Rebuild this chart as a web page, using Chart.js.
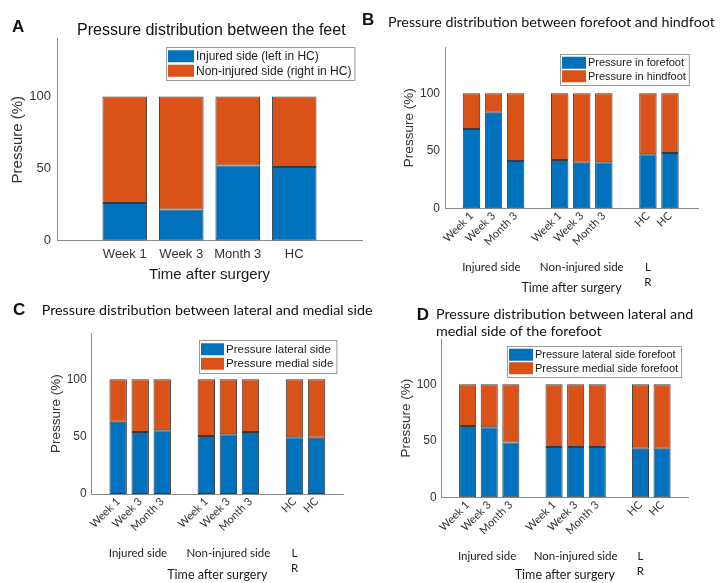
<!DOCTYPE html>
<html>
<head>
<meta charset="utf-8">
<script src="https://cdn.jsdelivr.net/npm/chart.js@4/dist/chart.umd.min.js"></script>
<style>
  body { margin: 0; background: #fff; width: 721px; height: 583px; position: relative; overflow: hidden; }
  canvas { position: absolute; }
  .lbl { position: absolute; white-space: nowrap; color: #111; line-height: 1; }
</style>
</head>
<body>
<script>
// ---- data ----
const catsA = ['Week 1', 'Week 3', 'Month 3', 'HC'];
const posA = [1, 2, 3, 4];
const injuredA = [26, 21.5, 52, 51];
const nonInjuredA = [74, 78.5, 48, 49];

const catsG = ['Week 1', 'Week 3', 'Month 3', 'Week 1', 'Week 3', 'Month 3', 'HC', 'HC'];
const posG = [1, 2, 3, 5, 6, 7, 9, 10];

const forefootB = [69, 83, 41, 42, 39.5, 40, 47, 48];
const hindfootB = [31, 17, 59, 58, 60.5, 60, 53, 52];

const lateralC = [63, 54, 55.5, 50.5, 52, 54, 49.5, 49];
const medialC = [37, 46, 44.5, 49.5, 48, 46, 50.5, 51];

const lateralForeD = [63, 62, 48.5, 44.5, 44.5, 44.5, 43, 43];
const medialForeD = [37, 38, 51.5, 55.5, 55.5, 55.5, 57, 57];

const yTicks = [0, 50, 100];
const groupLabels = ['Injured side', 'Non-injured side', 'L', 'R'];

const COLORS = ['#0072BD', '#D95319'];
const ARIAL = '"Liberation Sans", Arial, sans-serif';
const CALI = 'Lato, "Open Sans", sans-serif';

// legend box drawn inside the axes, top right (MATLAB style)
const boxLegend = {
  id: 'boxLegend',
  afterDraw(chart, args, o) {
    const { ctx, chartArea: a } = chart;
    const sets = chart.data.datasets;
    ctx.save();
    ctx.font = o.font;
    const tw = Math.max(...sets.map(d => ctx.measureText(d.label).width));
    const w = 2 + o.sw + 2 + tw + 3;
    const h = sets.length * o.row + 4;
    const x = Math.round(a.right - o.inset - w), y = Math.round(a.top + o.insetTop);
    ctx.fillStyle = '#fff';
    ctx.fillRect(x, y, w, h);
    ctx.strokeStyle = '#9a9a9a';
    ctx.lineWidth = 1;
    ctx.strokeRect(x + 0.5, y + 0.5, w, h);
    sets.forEach((d, i) => {
      const cy = y + 2 + o.row * (i + 0.5);
      ctx.fillStyle = d.backgroundColor;
      ctx.fillRect(x + 2, cy - o.sh / 2, o.sw, o.sh);
      ctx.fillStyle = '#1a1a1a';
      ctx.textBaseline = 'middle';
      ctx.fillText(d.label, x + 4 + o.sw, cy + 0.5);
    });
    ctx.restore();
  }
};

// group captions under the rotated tick labels
const groupText = {
  id: 'groupText',
  afterDraw(chart, args, o) {
    if (!o.items) return;
    const { ctx, chartArea: a, scales: { x } } = chart;
    ctx.save();
    ctx.font = o.font;
    ctx.fillStyle = '#1a1a1a';
    ctx.textAlign = 'center';
    ctx.textBaseline = 'middle';
    o.items.forEach(it => ctx.fillText(it.text, x.getPixelForValue(it.x), a.bottom + it.dy));
    ctx.restore();
  }
};

function makePanel(o) {
  const cv = document.createElement('canvas');
  cv.width = o.cw; cv.height = o.ch;
  cv.style.left = o.cx + 'px'; cv.style.top = o.cy + 'px';
  document.body.appendChild(cv);

  const yW = o.area.l - o.cx;
  const xH = o.cy + o.ch - o.area.b;
  const xTitleLh = o.xTitleFont.size * 1.2;
  const yTitleLh = o.yTitleFont.size * 1.2;

  const datasets = o.series.map((vals, i) => ({
    label: o.names[i],
    data: vals.map((v, j) => ({ x: o.pos[j], y: v })),
    backgroundColor: COLORS[i],
    borderColor: '#3a3a3a',
    borderWidth: 1,
    borderSkipped: false,
    barPercentage: 0.79,
    categoryPercentage: 1
  }));

  new Chart(cv, {
    type: 'bar',
    data: { datasets },
    options: {
      responsive: false,
      animation: false,
      layout: { padding: { left: 0, top: o.area.t - o.cy, right: o.cx + o.cw - o.area.r, bottom: 0 } },
      plugins: {
        legend: { display: false },
        tooltip: { enabled: false },
        boxLegend: o.legend,
        groupText: o.group || {}
      },
      scales: {
        x: {
          type: 'linear',
          stacked: true,
          offset: false,
          min: o.xMin, max: o.xMax,
          grid: { display: false, drawTicks: false, offset: false },
          border: { display: true, color: '#8a8a8a', width: 1 },
          afterBuildTicks: s => { s.ticks = o.pos.map(v => ({ value: v })); },
          afterFit: s => { s.height = xH; },
          ticks: {
            autoSkip: false,
            minRotation: o.rot, maxRotation: o.rot,
            padding: o.xTickPad,
            color: '#333',
            font: o.xTickFont,
            callback: (v, i) => o.cats[i]
          },
          title: {
            display: true,
            text: 'Time after surgery',
            color: '#1a1a1a',
            font: o.xTitleFont,
            padding: { top: 0, bottom: (o.cy + o.ch) - xTitleLh / 2 - o.xTitleY }
          }
        },
        y: {
          stacked: true,
          min: 0, max: 140,
          grid: { display: false, drawTicks: false },
          border: { display: true, color: '#8a8a8a', width: 1 },
          afterBuildTicks: s => { s.ticks = yTicks.map(v => ({ value: v })); },
          afterFit: s => { s.width = yW; },
          ticks: { padding: o.yTickPad, color: '#333', font: o.yTickFont },
          title: {
            display: true,
            text: 'Pressure (%)',
            color: '#333',
            font: o.yTitleFont,
            padding: { top: o.yTitleX - o.cx - yTitleLh / 2, bottom: 0 }
          }
        }
      }
    },
    plugins: [boxLegend, groupText]
  });
}

function groupItems() {
  return [
    { text: groupLabels[0], x: 1.9, dy: 59 },
    { text: groupLabels[1], x: 6.0, dy: 59 },
    { text: groupLabels[2], x: 9.0, dy: 59 },
    { text: groupLabels[3], x: 9.0, dy: 74 }
  ];
}

// panel A
makePanel({
  cx: 0, cy: 25, cw: 370, ch: 259,
  area: { l: 57, t: 35, r: 362, b: 240.5 },
  xMin: -0.2, xMax: 5.2, pos: posA, cats: catsA, rot: 0,
  series: [injuredA, nonInjuredA],
  names: ['Injured side (left in HC)', 'Non-injured side (right in HC)'],
  xTickFont: { family: ARIAL, size: 13 }, xTickPad: 6,
  yTickFont: { family: ARIAL, size: 13 }, yTickPad: 6,
  xTitleFont: { family: ARIAL, size: 15 }, xTitleY: 275,
  yTitleFont: { family: ARIAL, size: 15 }, yTitleX: 18,
  legend: { font: '12px ' + ARIAL, sw: 26, sh: 12, row: 14.5, inset: 8, insetTop: 8 }
});

// panel B
makePanel({
  cx: 370, cy: 35, cw: 351, ch: 265,
  area: { l: 445, t: 45, r: 698, b: 208.3 },
  xMin: -0.2, xMax: 11.27, pos: posG, cats: catsG, rot: 45,
  series: [forefootB, hindfootB],
  names: ['Pressure in forefoot', 'Pressure in hindfoot'],
  xTickFont: { family: CALI, size: 11 }, xTickPad: 1,
  yTickFont: { family: ARIAL, size: 12 }, yTickPad: 5,
  xTitleFont: { family: CALI, size: 12.5 }, xTitleY: 288.3,
  yTitleFont: { family: ARIAL, size: 13.5 }, yTitleX: 409,
  legend: { font: '11px ' + ARIAL, sw: 24, sh: 12, row: 13.5, inset: 9, insetTop: 7 },
  group: { font: '11.5px ' + CALI, items: groupItems() }
});

// panel C
makePanel({
  cx: 0, cy: 318, cw: 370, ch: 265,
  area: { l: 91.7, t: 333.4, r: 343, b: 494 },
  xMin: -0.2, xMax: 11.2, pos: posG, cats: catsG, rot: 45,
  series: [lateralC, medialC],
  names: ['Pressure lateral side', 'Pressure medial side'],
  xTickFont: { family: CALI, size: 11 }, xTickPad: 1,
  yTickFont: { family: ARIAL, size: 12 }, yTickPad: 5,
  xTitleFont: { family: CALI, size: 12.5 }, xTitleY: 575,
  yTitleFont: { family: ARIAL, size: 13.5 }, yTitleX: 56,
  legend: { font: '11.5px ' + ARIAL, sw: 23, sh: 12, row: 14.5, inset: 6.5, insetTop: 6.5 },
  group: { font: '11.5px ' + CALI, items: groupItems() }
});

// panel D
makePanel({
  cx: 370, cy: 318, cw: 351, ch: 265,
  area: { l: 441.7, t: 339, r: 688, b: 497.3 },
  xMin: -0.2, xMax: 11.2, pos: posG, cats: catsG, rot: 45,
  series: [lateralForeD, medialForeD],
  names: ['Pressure lateral side forefoot', 'Pressure medial side forefoot'],
  xTickFont: { family: CALI, size: 11 }, xTickPad: 1,
  yTickFont: { family: ARIAL, size: 12 }, yTickPad: 5,
  xTitleFont: { family: CALI, size: 12.5 }, xTitleY: 575,
  yTitleFont: { family: ARIAL, size: 13.5 }, yTitleX: 406.7,
  legend: { font: '11px ' + ARIAL, sw: 24, sh: 12, row: 13.5, inset: 6.5, insetTop: 7 },
  group: { font: '11.5px ' + CALI, items: groupItems() }
});

// panel letters and titles, placed by baseline
function placeText(text, x, baseline, css) {
  const d = document.createElement('div');
  d.className = 'lbl';
  d.style.cssText += css;
  d.style.left = x + 'px';
  d.style.top = '0px';
  d.textContent = text;
  const m = document.createElement('span');
  m.style.cssText = 'display:inline-block;width:0;height:0;vertical-align:baseline';
  d.appendChild(m);
  document.body.appendChild(d);
  d.style.top = (baseline - m.offsetTop) + 'px';
}

const letterCss = 'font-family:' + ARIAL + ';font-weight:bold;font-size:17px;';
const titleCss = 'font-family:' + CALI + ';font-size:14.3px;';
placeText('A', 12, 32, letterCss);
placeText('Pressure distribution between the feet', 77, 34.5, 'font-family:' + ARIAL + ';font-size:16px;');
placeText('B', 362, 25, letterCss);
placeText('Pressure distribution between forefoot and hindfoot', 388, 26.5, titleCss);
placeText('C', 13, 315, letterCss);
placeText('Pressure distribution between lateral and medial side', 41.7, 315, titleCss);
placeText('D', 416.7, 320, letterCss);
placeText('Pressure distribution between lateral and', 436, 318.5, titleCss);
placeText('medial side of the forefoot', 436, 336, titleCss);
</script>
</body>
</html>
